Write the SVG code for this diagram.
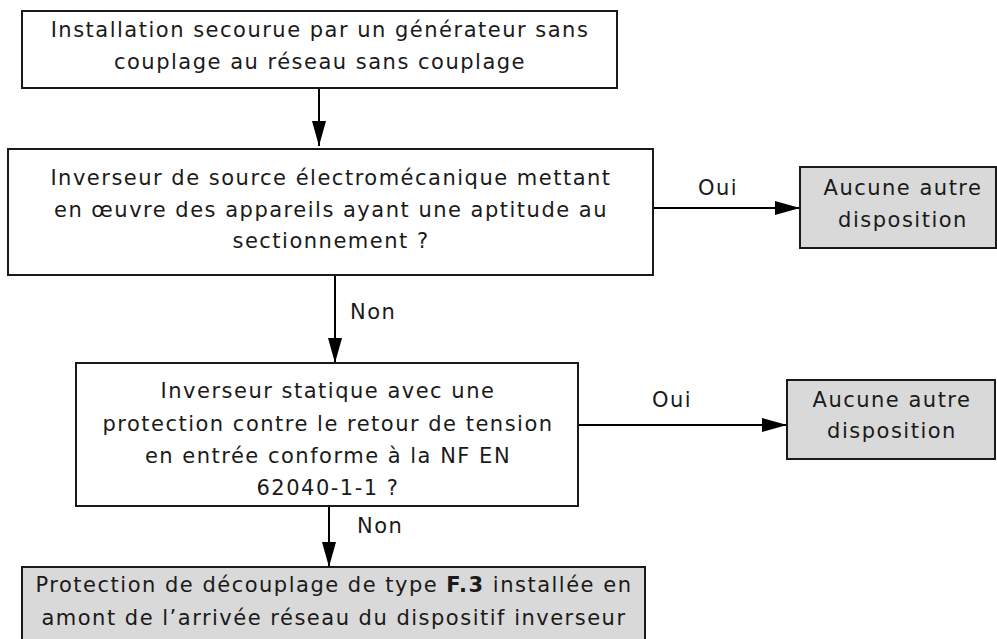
<svg xmlns="http://www.w3.org/2000/svg" width="997" height="639" viewBox="0 0 997 639">
  <style>
    .box { fill: #ffffff; stroke: #1a1a1a; stroke-width: 2; }
    .end { fill: #d9d9d9; stroke: #1a1a1a; stroke-width: 2; }
    .link { stroke: #000000; stroke-width: 2; fill: none; marker-end: url(#arrow); }
    text { font-family: "DejaVu Sans", "Open Sans", sans-serif; font-size: 21px; letter-spacing: 1.5px; fill: #1a1a1a; }
    .c { text-anchor: middle; }
  </style>
  <defs>
    <marker id="arrow" viewBox="0 0 25 14" refX="25" refY="7" markerUnits="userSpaceOnUse" markerWidth="25" markerHeight="14" orient="auto">
      <path d="M0,0 L25,7 L0,14 Z" fill="#000000"/>
    </marker>
  </defs>

  <rect width="997" height="639" fill="#ffffff"/>

  <g id="connectors">
    <line class="link" x1="319" y1="88" x2="319" y2="146"/>
    <line class="link" x1="654" y1="208" x2="800" y2="208"/>
    <line class="link" x1="335" y1="275" x2="335" y2="363"/>
    <line class="link" x1="578" y1="425" x2="787" y2="425"/>
    <line class="link" x1="329" y1="506" x2="329" y2="567"/>
    <text x="718" y="195" class="c">Oui</text>
    <text x="350" y="319">Non</text>
    <text x="672" y="407" class="c">Oui</text>
    <text x="357" y="533">Non</text>
  </g>

  <g id="start">
    <rect class="box" x="22" y="11" width="595" height="77"/>
    <text x="320" y="37" class="c">Installation secourue par un générateur sans</text>
    <text x="320" y="69" class="c">couplage au réseau sans couplage</text>
  </g>

  <g id="q1">
    <rect class="box" x="8" y="149" width="645" height="126"/>
    <text x="331" y="185" class="c">Inverseur de source électromécanique mettant</text>
    <text x="331" y="217" class="c">en œuvre des appareils ayant une aptitude au</text>
    <text x="331" y="248" class="c">sectionnement ?</text>
  </g>

  <g id="end1">
    <rect class="end" x="800" y="167" width="196" height="81"/>
    <text x="903" y="195" class="c">Aucune autre</text>
    <text x="903" y="227" class="c">disposition</text>
  </g>

  <g id="q2">
    <rect class="box" x="76" y="363" width="502" height="143"/>
    <text x="328" y="398" class="c">Inverseur statique avec une</text>
    <text x="328" y="431" class="c">protection contre le retour de tension</text>
    <text x="328" y="463" class="c">en entrée conforme à la NF EN</text>
    <text x="328" y="495" class="c">62040-1-1 ?</text>
  </g>

  <g id="end2">
    <rect class="end" x="787" y="380" width="208" height="79"/>
    <text x="892" y="407" class="c">Aucune autre</text>
    <text x="892" y="438" class="c">disposition</text>
  </g>

  <g id="action">
    <rect class="end" x="22" y="567" width="623" height="80"/>
    <text x="334" y="592" class="c">Protection de découplage de type <tspan font-weight="bold">F.3</tspan> installée en</text>
    <text x="334" y="625" class="c">amont de l’arrivée réseau du dispositif inverseur</text>
  </g>
</svg>
